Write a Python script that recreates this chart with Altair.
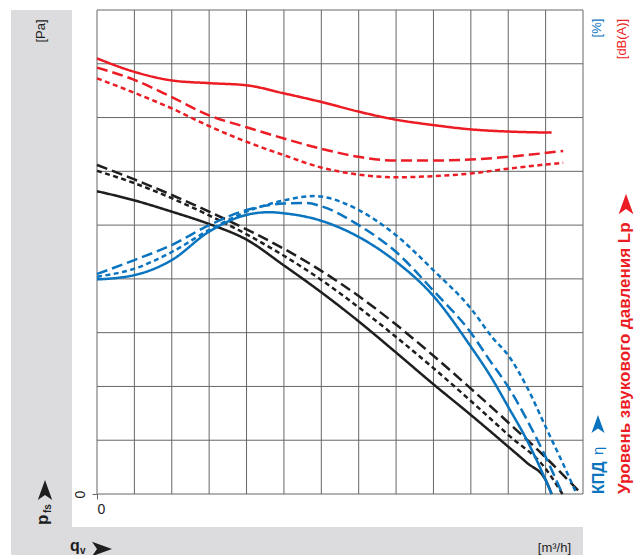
import altair as alt
import pandas as pd

FONT = "Liberation Sans Narrow, Liberation Sans, Arial, sans-serif"
X0, Y0 = 97, 10          # page position of the plot origin
W, H = 486, 484

# grid (chart units: 13 columns x 9 rows)
x_grid = list(range(0, 14))
y_grid = list(range(0, 10))

# static pressure p_fs (black)
p_solid_x = [0, 1, 2, 3, 4, 5, 6, 7, 8, 9, 10, 11, 11.5, 12, 12.16]
p_solid_y = [5.63, 5.46, 5.25, 5.02, 4.73, 4.25, 3.75, 3.21, 2.63, 2.04, 1.47, 0.88, 0.58, 0.26, 0]
p_dash_x = [0, 1, 2, 3, 4, 5, 6, 7, 8, 9, 10, 11, 12, 12.96]
p_dash_y = [6.12, 5.85, 5.56, 5.25, 4.92, 4.56, 4.15, 3.68, 3.15, 2.57, 1.96, 1.33, 0.68, 0]
p_dot_x = [0, 1, 2, 3, 4, 5, 6, 7, 8, 9, 10, 11, 12, 12.45]
p_dot_y = [6.01, 5.78, 5.50, 5.18, 4.83, 4.43, 3.98, 3.47, 2.92, 2.34, 1.73, 1.10, 0.47, 0]

# efficiency eta (blue)
e_solid_x = [0, 1, 2, 3, 4, 4.6, 5, 6, 7, 8, 9, 10, 10.5, 11, 11.5, 12, 12.16]
e_solid_y = [3.99, 4.07, 4.35, 4.88, 5.19, 5.24, 5.22, 5.08, 4.78, 4.32, 3.68, 2.74, 2.22, 1.62, 1.0, 0.26, 0]
e_dash_x = [0, 1, 2, 3, 4, 5, 5.6, 6, 7, 8, 9, 10, 10.5, 11, 11.5, 12, 12.45]
e_dash_y = [4.09, 4.35, 4.63, 5.0, 5.28, 5.40, 5.41, 5.35, 5.0, 4.50, 3.78, 3.0, 2.49, 1.99, 1.38, 0.69, 0]
e_dot_x = [0, 1, 2, 3, 4, 5, 5.8, 6, 7, 8, 9, 10, 10.6, 11, 11.5, 12, 12.5, 12.83]
e_dot_y = [4.04, 4.19, 4.50, 4.91, 5.25, 5.46, 5.54, 5.53, 5.28, 4.81, 4.16, 3.45, 2.89, 2.58, 1.99, 1.25, 0.51, 0]

# sound pressure level Lp (red)
l_solid_x = [0, 1, 2, 3, 4, 5, 6, 7, 8, 9, 10, 11, 12.16]
l_solid_y = [8.10, 7.85, 7.69, 7.64, 7.60, 7.45, 7.29, 7.11, 6.96, 6.86, 6.78, 6.74, 6.72]
l_dash_x = [0, 1, 2, 3, 4, 5, 6, 7, 8, 9, 10, 11, 12.47]
l_dash_y = [7.93, 7.70, 7.38, 7.04, 6.82, 6.61, 6.42, 6.27, 6.20, 6.20, 6.22, 6.27, 6.38]
l_dot_x = [0, 1, 2, 3, 4, 5, 6, 7, 8, 9, 10, 11, 12.47]
l_dot_y = [7.73, 7.46, 7.17, 6.84, 6.55, 6.30, 6.07, 5.94, 5.89, 5.91, 5.96, 6.05, 6.16]

series = [
    ("p_solid", "p", "solid", p_solid_x, p_solid_y),
    ("p_dash", "p", "dash", p_dash_x, p_dash_y),
    ("p_dot", "p", "dot", p_dot_x, p_dot_y),
    ("e_solid", "eta", "solid", e_solid_x, e_solid_y),
    ("e_dash", "eta", "dash", e_dash_x, e_dash_y),
    ("e_dot", "eta", "dot", e_dot_x, e_dot_y),
    ("l_solid", "lp", "solid", l_solid_x, l_solid_y),
    ("l_dash", "lp", "dash", l_dash_x, l_dash_y),
    ("l_dot", "lp", "dot", l_dot_x, l_dot_y),
]
rows = []
for name, grp, sty, xs_, ys_ in series:
    for i, (a, b) in enumerate(zip(xs_, ys_)):
        rows.append({"name": name, "grp": grp, "sty": sty, "x": a, "y": b, "i": i})
df = pd.DataFrame(rows)

RED, BLUE, BLACK = "#ec1c24", "#0a74bf", "#1e1e1e"
GRID = "#666666"
BG = "#dcdcde"

xs = alt.Scale(domain=[0, 13], nice=False, zero=False)
ys = alt.Scale(domain=[0, 9], nice=False, zero=False)

AX_X = alt.Axis(values=[0], title=None, grid=False, domain=False, tickSize=5, tickColor=GRID,
                labelFontSize=14, labelFont=FONT, labelColor=BLACK, labelPadding=3)
AX_Y = alt.Axis(values=[0], title=None, grid=False, domain=False, tickSize=5, tickColor=GRID,
                labelFontSize=14, labelFont=FONT, labelColor=BLACK, labelAngle=270,
                labelAlign="center", labelBaseline="bottom", labelPadding=5)

# gray L-shaped background
bg_left = alt.Chart(pd.DataFrame({"a": [0]})).mark_rect(color=BG).encode(
    x=alt.value(11 - X0), x2=alt.value(72 - X0), y=alt.value(10 - Y0), y2=alt.value(527 - Y0))
bg_bottom = alt.Chart(pd.DataFrame({"a": [0]})).mark_rect(color=BG).encode(
    x=alt.value(11 - X0), x2=alt.value(583 - X0), y=alt.value(527 - Y0), y2=alt.value(555 - Y0))

vgrid = alt.Chart(pd.DataFrame({"gx": x_grid})).mark_rule(color=GRID, strokeWidth=1).encode(
    x=alt.X("gx:Q", scale=xs, axis=AX_X))
hgrid = alt.Chart(pd.DataFrame({"gy": y_grid})).mark_rule(color=GRID, strokeWidth=1).encode(
    y=alt.Y("gy:Q", scale=ys, axis=AX_Y))

lines = alt.Chart(df).mark_line(strokeWidth=2.5, interpolate="monotone", strokeCap="butt").encode(
    x=alt.X("x:Q", scale=xs, axis=AX_X),
    y=alt.Y("y:Q", scale=ys, axis=AX_Y),
    color=alt.Color("grp:N", scale=alt.Scale(domain=["p", "eta", "lp"], range=[BLACK, BLUE, RED]), legend=None),
    strokeDash=alt.StrokeDash("sty:N", scale=alt.Scale(domain=["solid", "dash", "dot"],
                                                        range=[[1, 0], [11, 5], [5, 3.5]]), legend=None),
    detail="name:N",
    order="i:Q",
)


def txt(s, px, py, size, color=BLACK, angle=0, align="center", baseline="middle", weight="normal"):
    return alt.Chart(pd.DataFrame({"t": [s]})).mark_text(
        align=align, baseline=baseline, angle=angle, fontSize=size, fontWeight=weight,
        color=color, font=FONT).encode(x=alt.value(px - X0), y=alt.value(py - Y0), text="t:N")


ARROW = "M -1 -0.72 L 1 0 L -1 0.72 L -0.5 0 Z"


def arrow(px, py, color, angle, size=400):
    return alt.Chart(pd.DataFrame({"a": [0]})).mark_point(
        shape=ARROW, filled=True, color=color, opacity=1, size=size, angle=angle, strokeWidth=0).encode(
        x=alt.value(px - X0), y=alt.value(py - Y0))


texts = [
    txt("[Pa]", 41, 31, 13, angle=270),
    txt("p", 43, 525, 17, angle=270, align="left", weight="bold"),
    txt("fs", 48, 513, 10, angle=270, align="left", weight="bold"),
    arrow(45, 490, BLACK, 270),
    txt("q", 70, 551, 16, align="left", baseline="alphabetic", weight="bold"),
    txt("v", 80, 554, 10, align="left", baseline="alphabetic", weight="bold"),
    arrow(102, 549, BLACK, 0),
    txt("[m³/h]", 571, 552, 13, align="right", baseline="alphabetic"),
    txt("[%]", 597, 28, 13, color=BLUE, angle=270),
    txt("[dB(A)]", 622, 39, 13, color=RED, angle=270),
    txt("КПД", 599, 494, 16, color=BLUE, angle=270, align="left", weight="bold"),
    txt("η", 598, 455, 15, color=BLUE, angle=270, align="left"),
    arrow(598, 424, BLUE, 270, 330),
    txt("Уровень звукового давления Lp", 630, 494, 17, color=RED, angle=270, align="left",
        baseline="alphabetic", weight="bold"),
    arrow(626, 204, RED, 270, 420),
]

chart = alt.layer(bg_left, bg_bottom, vgrid, hgrid, lines, *texts).properties(
    width=W, height=H,
    padding={"left": X0 - 8, "top": Y0 - 8, "right": 634 - X0 - W, "bottom": 555 - Y0 - H},
    autosize=alt.AutoSizeParams(type="none"),
    background="white",
).configure_view(stroke=None)

chart.save("out.html", embed_options={"renderer": "svg", "actions": False})
